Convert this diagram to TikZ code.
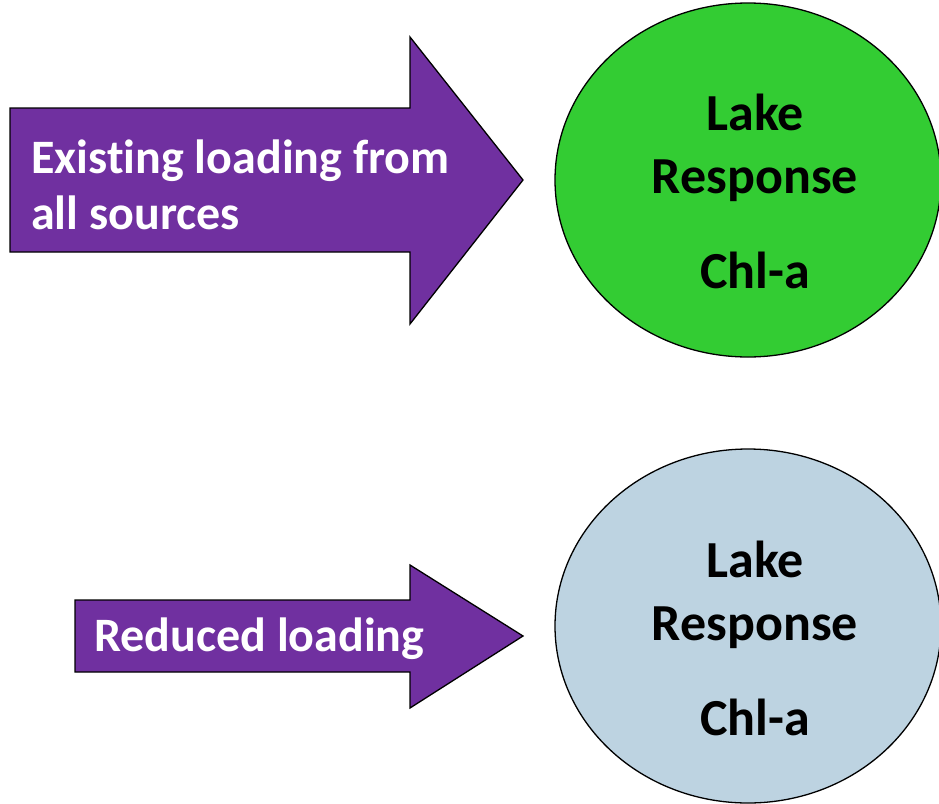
\documentclass[tikz,border=0pt]{standalone}
\usepackage{fontspec}
\setmainfont[Ligatures=NoCommon]{Carlito}
\usetikzlibrary{shapes.geometric}
\definecolor{arrowpurple}{HTML}{7030A0}
\definecolor{lakegreen}{HTML}{33CC33}
\definecolor{lakeblue}{RGB}{189,211,225}
\begin{document}
\begin{tikzpicture}[x=1pt,y=-1pt,
  outline/.style={draw=black, line width=1.3pt, line join=miter},
  arrowtxt/.style={text=white, inner sep=0pt, font=\fontsize{48}{56}\selectfont\bfseries},
  laketxt/.style={text=black, inner sep=0pt, font=\fontsize{52}{60}\selectfont\bfseries},
  lakeshape/.style={outline, ellipse, inner sep=0pt, minimum width=386pt, minimum height=354pt}]
\useasboundingbox (0,0) rectangle (939,803);
\fill[white] (0,0) rectangle (939,803);

% top arrow
\draw[outline, fill=arrowpurple] (10,108) -- (410,108) -- (410,37) -- (523,180) -- (410,324) -- (410,252) -- (10,252) -- cycle;
\node[arrowtxt, anchor=base west] (t1) at (31,173) {Existing loading from};
\node[arrowtxt, anchor=base west] (t2) at (31,229) {all sources};

% top ellipse
\node[lakeshape, fill=lakegreen] (lake1) at (748,180) {};
\node[laketxt, anchor=base] (l1a) at (755,130) {Lake};
\node[laketxt, anchor=base] (l1b) at (755,193) {Response};
\node[laketxt, anchor=base] (l1c) at (755,288) {Chl-a};

% bottom arrow
\draw[outline, fill=arrowpurple] (75,600) -- (410,600) -- (410,565) -- (523,636) -- (410,708) -- (410,672) -- (75,672) -- cycle;
\node[arrowtxt, anchor=base west] (t3) at (94,651) {Reduced loading};

% bottom ellipse
\node[lakeshape, fill=lakeblue] (lake2) at (748,626) {};
\node[laketxt, anchor=base] (l2a) at (755,577) {Lake};
\node[laketxt, anchor=base] (l2b) at (755,640) {Response};
\node[laketxt, anchor=base] (l2c) at (755,735) {Chl-a};
\end{tikzpicture}
\end{document}
